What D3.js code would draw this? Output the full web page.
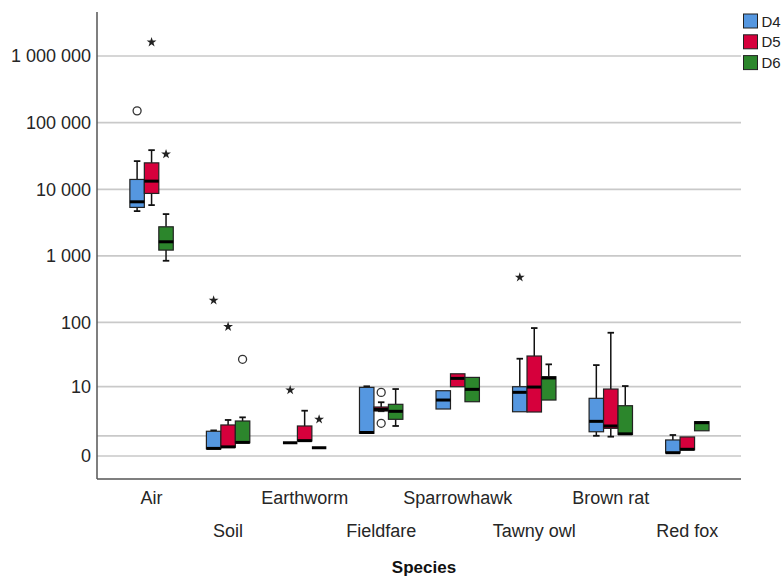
<!DOCTYPE html>
<html>
<head>
<meta charset="utf-8">
<script src="https://cdn.jsdelivr.net/npm/d3@7"></script>
<style>
  html, body { margin: 0; padding: 0; background: #fff; }
  svg { display: block; font-family: "Liberation Sans", Arial, sans-serif; }
</style>
</head>
<body>
<svg id="chart" width="781" height="576"></svg>
<script>
// Categories and groups
const species = ["Air", "Soil", "Earthworm", "Fieldfare", "Sparrowhawk", "Tawny owl", "Brown rat", "Red fox"];
const groups = ["D4", "D5", "D6"];
const groupColors = ["#5597e0", "#d6003c", "#2c862c"];

// Box statistics per species: [lower whisker, Q1, median, Q3, upper whisker]
const d4Stats = [
  [4710, 5355, 6500, 14070, 26500],
  [0.28, 0.28, 0.30, 1.35, 1.42],
  [0.58, 0.58, 0.58, 0.58, 0.58],
  [1.19, 1.19, 1.25, 9.7, 10.1],
  [4.07, 4.07, 5.91, 8.53, 8.53],
  [3.61, 3.61, 8.02, 9.94, 27.8],
  [1.01, 1.31, 2.31, 6.33, 22.1],
  [0.11, 0.11, 0.12, 0.74, 1.065]
];
const d5Stats = [
  [5800, 8680, 13270, 24950, 38700],
  [0.35, 0.35, 0.37, 1.92, 2.47],
  [0.68, 0.68, 0.70, 1.82, 3.78],
  [3.7, 3.73, 4.0, 4.43, 5.4],
  [9.94, 9.94, 13.6, 16.1, 16.1],
  [3.57, 3.57, 9.82, 30.6, 82],
  [0.95, 1.60, 1.82, 9.1, 69.6],
  [0.24, 0.24, 0.26, 0.93, 0.93]
];
const d6Stats = [
  [847, 1225, 1633, 2740, 4250],
  [0.58, 0.58, 0.60, 2.35, 2.80],
  [0.33, 0.33, 0.33, 0.33, 0.33],
  [1.82, 2.55, 3.68, 4.96, 9.1],
  [5.52, 5.52, 9.0, 14.1, 14.1],
  [5.91, 5.91, 13.8, 14.45, 22.7],
  [1.11, 1.11, 1.15, 4.68, 10.2],
  [1.39, 1.39, 2.16, 2.27, 2.27]
];

// Outliers: species, group, value, kind ("o" = outlier, "*" = extreme)
const outlierSpecies = ["Air", "Air", "Air", "Soil", "Soil", "Soil", "Earthworm", "Earthworm", "Fieldfare", "Fieldfare", "Tawny owl"];
const outlierGroups = ["D4", "D5", "D6", "D4", "D5", "D6", "D4", "D6", "D5", "D5", "D4"];
const outlierValues = [150300, 1610000, 33700, 215, 86, 27.2, 8.75, 2.55, 8.0, 2.09, 477];
const outlierKinds = ["o", "*", "*", "*", "*", "o", "*", "*", "o", "o", "*"];

// Axis ticks
const yTicks = [0, 10, 100, 1000, 10000, 100000, 1000000];
const yExtraGrid = [1];

const svg = d3.select("#chart");
const plotLeft = 97, plotRight = 741, plotTop = 12, plotBottom = 479;

// Safe-log style axis: sign(x) * log(1 + |x|)
const y = d3.scaleSymlog().constant(1).domain([-1.213, 4.57e6]).range([plotBottom, plotTop]);
const x = d3.scaleBand().domain(species).range([113.3, 725.6]);
const xSub = d3.scaleBand().domain(groups).range([-21.7, 21.7]);
const color = d3.scaleOrdinal().domain(groups).range(groupColors);

const fmt = d3.formatLocale({ decimal: ".", thousands: " ", grouping: [3], currency: ["", ""] }).format(",");

// Gridlines
svg.append("g")
  .selectAll("line")
  .data(yTicks.concat(yExtraGrid))
  .join("line")
  .attr("x1", plotLeft).attr("x2", plotRight)
  .attr("y1", d => y(d)).attr("y2", d => y(d))
  .attr("stroke", "#c9c9c9").attr("stroke-width", 1.7);

// Y axis labels
const yAxis = d3.axisLeft(y).tickValues(yTicks).tickFormat(fmt).tickSize(0).tickPadding(6);
const gy = svg.append("g").attr("transform", `translate(${plotLeft},0)`).call(yAxis);
gy.select(".domain").remove();
gy.selectAll("text").attr("font-size", 18).attr("fill", "#262626")
  .attr("font-family", "'Liberation Sans', Arial, sans-serif");

// Axis lines
svg.append("line").attr("x1", plotLeft).attr("x2", plotLeft).attr("y1", plotTop).attr("y2", plotBottom)
  .attr("stroke", "#555").attr("stroke-width", 1.5);
svg.append("line").attr("x1", plotLeft).attr("x2", plotRight).attr("y1", plotBottom).attr("y2", plotBottom)
  .attr("stroke", "#555").attr("stroke-width", 1.5);

// X axis labels, staggered on two rows
const xAxis = d3.axisBottom(x).tickSize(0).tickPadding(0);
const gx = svg.append("g").attr("transform", `translate(0,${plotBottom})`).call(xAxis);
gx.select(".domain").remove();
gx.selectAll("text")
  .attr("font-size", 18).attr("fill", "#262626")
  .attr("font-family", "'Liberation Sans', Arial, sans-serif")
  .attr("dy", null)
  .attr("y", (d, i) => (i % 2 === 0 ? 25 : 58));

// X axis title
svg.append("text").attr("x", (plotLeft + plotRight) / 2 + 5).attr("y", 573)
  .attr("text-anchor", "middle").attr("font-size", 17).attr("font-weight", "bold").attr("fill", "#111")
  .text("Species");

// Box plots
const allStats = [d4Stats, d5Stats, d6Stats];
const boxes = [];
groups.forEach((g, gi) => {
  species.forEach((s, si) => {
    const [lo, q1, med, q3, hi] = allStats[gi][si];
    boxes.push({ s, g, lo, q1, med, q3, hi });
  });
});

const bw = xSub.bandwidth();
const cx = d => x(d.s) + x.bandwidth() / 2 + xSub(d.g) + bw / 2;
const capW = 6.5;

const gb = svg.append("g");
const box = gb.selectAll("g.box").data(boxes).join("g").attr("class", "box");

// whiskers
box.append("line")
  .attr("x1", cx).attr("x2", cx)
  .attr("y1", d => y(d.hi)).attr("y2", d => y(d.q3))
  .attr("stroke", "#111").attr("stroke-width", 1.5)
  .attr("display", d => d.hi > d.q3 ? null : "none");
box.append("line")
  .attr("x1", cx).attr("x2", cx)
  .attr("y1", d => y(d.q1)).attr("y2", d => y(d.lo))
  .attr("stroke", "#111").attr("stroke-width", 1.5)
  .attr("display", d => d.lo < d.q1 ? null : "none");
box.append("line")
  .attr("x1", d => cx(d) - capW / 2).attr("x2", d => cx(d) + capW / 2)
  .attr("y1", d => y(d.hi)).attr("y2", d => y(d.hi))
  .attr("stroke", "#111").attr("stroke-width", 1.8)
  .attr("display", d => d.hi > d.q3 ? null : "none");
box.append("line")
  .attr("x1", d => cx(d) - capW / 2).attr("x2", d => cx(d) + capW / 2)
  .attr("y1", d => y(d.lo)).attr("y2", d => y(d.lo))
  .attr("stroke", "#111").attr("stroke-width", 1.8)
  .attr("display", d => d.lo < d.q1 ? null : "none");

// boxes
box.append("rect")
  .attr("x", d => cx(d) - bw / 2)
  .attr("width", bw)
  .attr("y", d => y(d.q3))
  .attr("height", d => Math.max(0, y(d.q1) - y(d.q3)))
  .attr("fill", d => color(d.g))
  .attr("stroke", "#222").attr("stroke-width", 1.2);

// medians
box.append("line")
  .attr("x1", d => cx(d) - bw / 2).attr("x2", d => cx(d) + bw / 2)
  .attr("y1", d => y(d.med)).attr("y2", d => y(d.med))
  .attr("stroke", "#000").attr("stroke-width", 3);

// Outliers
const outliers = outlierValues.map((v, i) => ({ s: outlierSpecies[i], g: outlierGroups[i], v, k: outlierKinds[i] }));
const go = svg.append("g");
go.selectAll("circle").data(outliers.filter(d => d.k === "o")).join("circle")
  .attr("cx", cx).attr("cy", d => y(d.v)).attr("r", 4)
  .attr("fill", "none").attr("stroke", "#333").attr("stroke-width", 1.3);
go.selectAll("path").data(outliers.filter(d => d.k === "*")).join("path")
  .attr("transform", d => `translate(${cx(d)},${y(d.v)})`)
  .attr("d", d3.symbol(d3.symbolStar, 30))
  .attr("fill", "#222");

// Legend
const lg = svg.append("g").attr("transform", "translate(743.5,14)");
const li = lg.selectAll("g").data(groups).join("g").attr("transform", (d, i) => `translate(0,${i * 20.8})`);
li.append("rect").attr("width", 14).attr("height", 14)
  .attr("fill", d => color(d)).attr("stroke", "#222").attr("stroke-width", 1);
li.append("text").attr("x", 18).attr("y", 12.5).attr("font-size", 15).attr("fill", "#222").text(d => d);
</script>
</body>
</html>
